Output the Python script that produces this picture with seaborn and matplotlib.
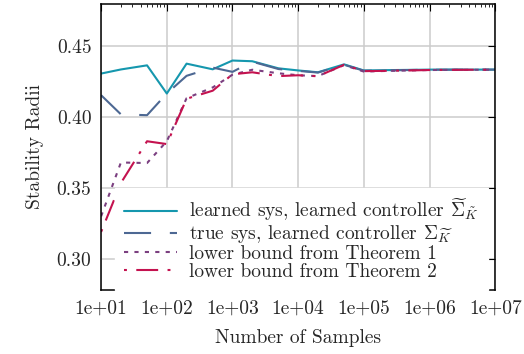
import numpy as np
import seaborn as sns
import matplotlib.pyplot as plt
from matplotlib.ticker import FuncFormatter, LogLocator, FixedLocator

samples = [1e1, 2e1, 5e1, 1e2, 2e2, 5e2, 1e3, 2e3, 5e3, 1e4, 2e4, 5e4,
           1e5, 2e5, 5e5, 1e6, 2e6, 5e6, 1e7]
learned_sys = [0.4308, 0.4337, 0.4366, 0.4167, 0.4378, 0.4338, 0.4400, 0.4395,
               0.4345, 0.4330, 0.4317, 0.4373, 0.4330, 0.4332, 0.4334, 0.4336,
               0.4336, 0.4336, 0.4336]
true_sys = [0.4155, 0.4020, 0.4014, 0.4167, 0.4292, 0.4350, 0.4320, 0.4392,
            0.4340, 0.4327, 0.4315, 0.4370, 0.4328, 0.4330, 0.4333, 0.4335,
            0.4335, 0.4336, 0.4336]
bound_thm1 = [0.3300, 0.3680, 0.3676, 0.3830, 0.4134, 0.4210, 0.4300, 0.4335,
              0.4310, 0.4296, 0.4290, 0.4368, 0.4322, 0.4326, 0.4330, 0.4333,
              0.4334, 0.4335, 0.4335]
bound_thm2 = [0.3190, 0.3535, 0.3830, 0.3810, 0.4130, 0.4187, 0.4303, 0.4317,
              0.4290, 0.4296, 0.4289, 0.4370, 0.4325, 0.4327, 0.4330, 0.4333,
              0.4334, 0.4335, 0.4335]
labels = [r'learned sys, learned controller $\widetilde{\Sigma}_{\tilde{K}}$',
          r'true sys, learned controller $\Sigma_{\widetilde{K}}$',
          'lower bound from Theorem 1',
          'lower bound from Theorem 2']

sns.set_style('whitegrid')
plt.rcParams['font.family'] = 'serif'
plt.rcParams['font.serif'] = ['cmr10']
plt.rcParams['mathtext.fontset'] = 'cm'
plt.rcParams['axes.formatter.use_mathtext'] = False
plt.rcParams['axes.unicode_minus'] = False

fig, ax = plt.subplots(figsize=(5.24, 3.54), dpi=100)
fig.subplots_adjust(left=0.193, right=0.945, top=0.989, bottom=0.181)

lw = 1.5
sns.lineplot(x=samples, y=learned_sys, ax=ax, color='#1597ae', lw=lw,
             linestyle='-', label=labels[0])
sns.lineplot(x=samples, y=true_sys, ax=ax, color='#4d6893', lw=lw,
             linestyle=(0, (13, 9)), label=labels[1])
sns.lineplot(x=samples, y=bound_thm1, ax=ax, color='#7b3f80', lw=lw,
             linestyle=(0, (2, 3)), label=labels[2])
sns.lineplot(x=samples, y=bound_thm2, ax=ax, color='#c4124f', lw=lw,
             linestyle=(0, (1.4, 4.5, 10.5, 4.5)), label=labels[3])

ax.set_xscale('log')
ax.set_xlim(1e1, 1e7)
ax.set_ylim(0.278, 0.48)
ax.xaxis.set_major_locator(LogLocator(base=10, numticks=20))
ax.xaxis.set_minor_locator(LogLocator(base=10, subs=np.arange(2, 10), numticks=20))
ax.xaxis.set_major_formatter(FuncFormatter(lambda v, p: '%.0e' % v))
ax.yaxis.set_major_locator(FixedLocator([0.30, 0.35, 0.40, 0.45]))
ax.yaxis.set_major_formatter(FuncFormatter(lambda v, p: '%.2f' % v))

ax.grid(True, which='major', color='#cccccc', lw=1.1)
ax.grid(False, which='minor')
for s in ax.spines.values():
    s.set_color('black')
    s.set_linewidth(1.1)
ax.tick_params(which='both', direction='in', top=True, right=True,
               colors='black', labelcolor='#262626', labelsize=14, pad=7)
ax.tick_params(which='major', length=5, width=0.8)
ax.tick_params(which='minor', length=2.5, width=0.6)

ax.set_xlabel('Number of Samples', fontsize=14, color='#262626', labelpad=8)
ax.set_ylabel('Stability Radii', fontsize=14, color='#262626', labelpad=9)

leg = ax.legend(loc='lower left', bbox_to_anchor=(0.036, 0.0), borderaxespad=0,
                fontsize=14, frameon=True, framealpha=1, fancybox=False,
                edgecolor='white', handlelength=2.7, handletextpad=0.65,
                labelspacing=0.0, borderpad=0.45)
for t in leg.get_texts():
    t.set_color('#262626')

plt.savefig('out.png', dpi=100)
